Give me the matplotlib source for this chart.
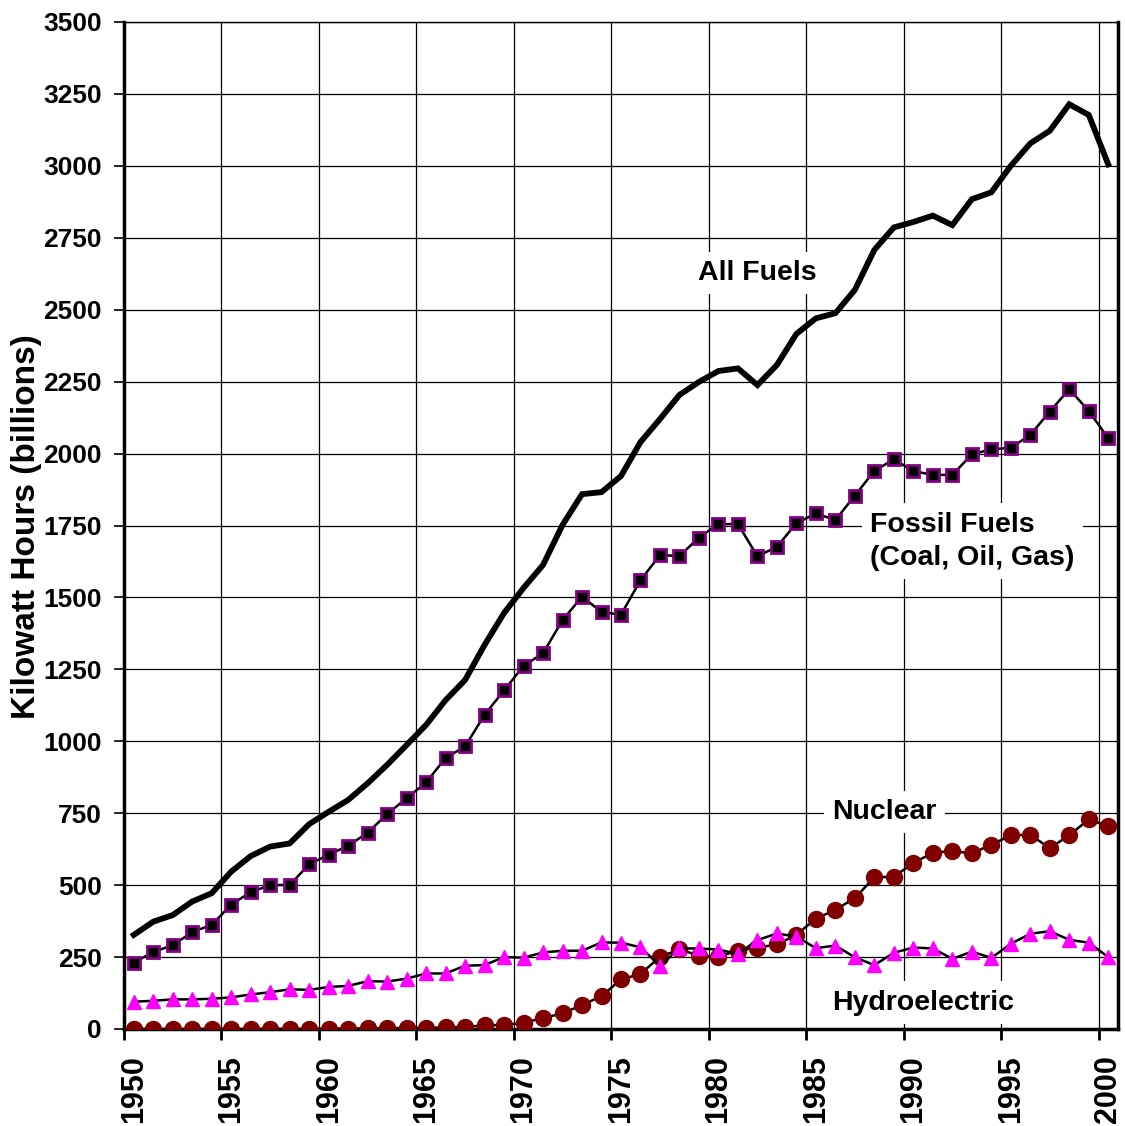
import numpy as np
import matplotlib
matplotlib.use("Agg")
import matplotlib.pyplot as plt
from matplotlib import font_manager

years = list(range(1950, 2001))

all_fuels = [327, 373, 396, 443, 472, 547, 601, 634, 645, 712,
             755, 796, 854, 918, 987, 1057, 1143, 1213, 1335, 1446,
             1533, 1613, 1752, 1859, 1866, 1922, 2040, 2120, 2204, 2249,
             2287, 2296, 2238, 2308, 2416, 2470, 2488, 2569, 2708, 2786,
             2805, 2827, 2794, 2884, 2908, 3000, 3078, 3122, 3214, 3177,
             3005]
fossil = [230, 268, 291, 337, 362, 432, 476, 500, 501, 572,
          606, 637, 682, 747, 802, 857, 942, 982, 1092, 1177,
          1262, 1306, 1421, 1503, 1449, 1440, 1560, 1647, 1644, 1708,
          1755, 1755, 1643, 1676, 1758, 1792, 1769, 1854, 1940, 1980,
          1939, 1926, 1926, 1997, 2015, 2020, 2065, 2146, 2224, 2148,
          2053]
nuclear = [0, 0, 0, 0, 0, 0, 0, 0.2, 0.2, 0.2,
           0.5, 1.7, 2.3, 3.2, 3.3, 3.7, 5.5, 7.7, 12.5, 13.9,
           21.8, 38.1, 54.1, 83.5, 114, 172.5, 191.1, 250.9, 276.4, 255.2,
           251.1, 272.7, 282.8, 293.7, 327.6, 383.7, 414, 455.3, 527, 529.4,
           576.9, 612.6, 618.8, 610.3, 640.4, 673.4, 674.7, 628.6, 673.7, 728.3,
           705]
hydro = [95, 98, 103, 103, 105, 110, 120, 128, 138, 136,
         146, 150, 166, 165, 175, 193, 193, 220, 222, 250,
         248, 266, 272, 272, 301, 300, 284, 220, 280, 280,
         276, 261, 309, 332, 321, 281, 290, 249, 222, 265,
         283, 280, 244, 269, 247, 296, 331, 340, 310, 300,
         250]

y_ticks = list(range(0, 3501, 250))
x_labels = list(range(1950, 2001, 5))

names = {f.name for f in font_manager.fontManager.ttflist}
narrow = "Liberation Sans Narrow" if "Liberation Sans Narrow" in names else "Liberation Sans"
plt.rcParams["font.family"] = ["Liberation Sans", "DejaVu Sans"]
plt.rcParams["font.weight"] = "bold"

fig = plt.figure(figsize=(11.25, 11.26), dpi=100)
ax = fig.add_axes([124 / 1125, 1 - 1029 / 1126, 994 / 1125, 1007 / 1126])

ax.set_xlim(1949.5, 2000.5)
ax.set_ylim(0, 3500)

# grid
for v in y_ticks:
    ax.axhline(v, color="black", lw=0.9, zorder=1)
for g in np.arange(1949.5, 2000.5, 5):
    ax.axvline(g, color="black", lw=0.9, zorder=1)

ax.plot(years, all_fuels, color="black", lw=4.2, zorder=5, solid_joinstyle="miter")
ax.plot(years, fossil, color="black", lw=1.8, marker="s", ms=8.5,
        mfc="black", mec="#800080", mew=2, zorder=5)
ax.plot(years, nuclear, color="black", lw=1.8, marker="o", ms=11.5,
        mfc="#800000", mec="#800000", zorder=5)
ax.plot(years, hydro, color="black", lw=1.8, marker="^", ms=9.5,
        mfc="#FF00FF", mec="#FF00FF", zorder=6)

box = dict(facecolor="white", edgecolor="none", pad=6)
ax.text(1982.0, 2628, "All Fuels", fontsize=20.5, fontweight="bold",
        ha="center", va="center", bbox=box, zorder=3)
ax.text(1987.8, 1695, "Fossil Fuels\n(Coal, Oil, Gas)", fontsize=20.5,
        fontweight="bold", ha="left", va="center", linespacing=1.38,
        bbox=box, zorder=3)
ax.text(1988.5, 755, "Nuclear", fontsize=20.5, fontweight="bold",
        ha="center", va="center", bbox=box, zorder=3)
ax.text(1990.5, 92, "Hydroelectric", fontsize=20.5, fontweight="bold",
        ha="center", va="center", bbox=box, zorder=3)

# axes, ticks
ax.set_yticks(y_ticks)
ax.set_yticklabels([str(v) for v in y_ticks], fontsize=19, fontweight="bold",
                   family=narrow)
ax.tick_params(axis="y", direction="out", length=7, width=1.2, pad=9)

ax.set_xticks(np.arange(1949.5, 2000.5, 5))
ax.set_xticklabels([])
ax.tick_params(axis="x", which="major", direction="out", length=8, width=2)
ax.set_xticks(x_labels, minor=True)
ax.set_xticklabels([str(v) for v in x_labels], minor=True, rotation=90,
                   fontsize=22, fontweight="bold", family=narrow)
ax.tick_params(axis="x", which="minor", length=0, pad=19)

for s in ("left", "bottom", "right"):
    ax.spines[s].set_linewidth(2.5)
ax.spines["top"].set_linewidth(1)

fig.text(27 / 1125, 1 - 527 / 1126, "Kilowatt Hours (billions)", rotation=90,
         fontsize=24, fontweight="bold", ha="center", va="center")

fig.savefig("out.png", dpi=100)
